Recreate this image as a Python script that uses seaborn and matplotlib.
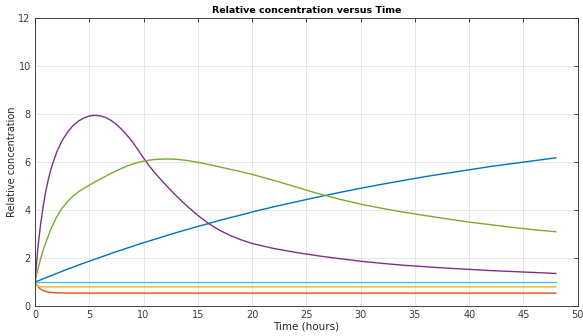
import matplotlib
matplotlib.use("Agg")
import matplotlib.pyplot as plt
import seaborn as sns
import pandas as pd

time_h = [0, 0.25, 0.5, 0.75, 1, 1.25, 1.5,
          2, 2.5, 3, 3.5, 4, 4.5, 5, 5.5, 6, 6.5, 7, 7.5, 8, 8.5, 9, 9.5, 10, 10.5, 11,
          12, 13, 14, 15, 16, 17, 18, 19, 20,
          22, 24, 26, 28, 30, 32, 34, 36, 38, 40, 42, 44, 46, 48]

blue = [1.00, 1.05, 1.09, 1.14, 1.18, 1.23, 1.27,
        1.36, 1.45, 1.54, 1.62, 1.71, 1.79, 1.87, 1.95, 2.03, 2.11, 2.19, 2.27, 2.34, 2.42,
        2.49, 2.57, 2.64, 2.71, 2.78,
        2.92, 3.06, 3.19, 3.32, 3.44, 3.57, 3.69, 3.80, 3.92,
        4.14, 4.34, 4.54, 4.73, 4.91, 5.08, 5.24, 5.40, 5.54, 5.68, 5.82, 5.94, 6.06, 6.18]
orange = [1.00, 0.83, 0.71, 0.65, 0.61, 0.585, 0.57,
          0.555, 0.547, 0.543, 0.541] + [0.54] * 38
yellow = [1.00, 0.82] + [0.80] * 47
purple = [1.00, 2.35, 3.35, 4.15, 4.80, 5.32, 5.75,
          6.42, 6.90, 7.25, 7.52, 7.71, 7.84, 7.92, 7.95, 7.93, 7.86, 7.74, 7.57, 7.36, 7.11,
          6.83, 6.51, 6.17, 5.86, 5.57,
          5.07, 4.60, 4.17, 3.78, 3.44, 3.16, 2.94, 2.76, 2.61,
          2.40, 2.24, 2.10, 1.98, 1.87, 1.78, 1.70, 1.64, 1.58, 1.53, 1.48, 1.44, 1.40, 1.36]
green = [1.00, 1.50, 1.95, 2.33, 2.65, 2.96, 3.25,
         3.72, 4.08, 4.36, 4.58, 4.76, 4.91, 5.04, 5.17, 5.29, 5.41, 5.53, 5.64, 5.74, 5.84,
         5.92, 5.99, 6.04, 6.08, 6.11,
         6.13, 6.12, 6.07, 5.99, 5.90, 5.80, 5.70, 5.60, 5.49,
         5.24, 4.97, 4.70, 4.46, 4.25, 4.07, 3.91, 3.77, 3.63, 3.50, 3.39, 3.28, 3.18, 3.10]
lightblue = [1.00] * 49

series = {"s1": blue, "s2": orange, "s3": yellow, "s4": purple, "s5": green, "s6": lightblue}
colors = {"s1": "#0072BD", "s2": "#D95319", "s3": "#EDB120", "s4": "#7E2F8E",
          "s5": "#77AC30", "s6": "#4DBEEE"}

df = pd.concat([pd.DataFrame({"Time": time_h, "Conc": v, "series": k}) for k, v in series.items()])

sns.set_style("white")
plt.rcParams['font.family'] = ['DejaVu Sans']

fig = plt.figure(figsize=(5.83, 3.36), dpi=100)
ax = fig.add_axes([0.060, 0.089, 0.931, 0.857])

sns.lineplot(data=df, x="Time", y="Conc", hue="series", palette=colors, estimator=None,
             sort=False, linewidth=1.0, legend=False, ax=ax)

ax.set_xlim(0, 50)
ax.set_ylim(0, 12)
ax.set_xticks(range(0, 51, 5))
ax.set_yticks(range(0, 13, 2))
axc = "#262626"
ax.grid(True, color="#e3e3e3", linewidth=0.6)
ax.set_axisbelow(True)
for s in ax.spines.values():
    s.set_color(axc)
    s.set_linewidth(0.6)
    s.set_visible(True)
ax.tick_params(direction="in", top=True, right=True, length=3, width=0.6,
               colors=axc, labelsize=7, pad=3)
for lab in ax.get_xticklabels() + ax.get_yticklabels():
    lab.set_color("#3a3a3a")
ax.set_xlabel("Time (hours)", fontsize=7.5, color=axc, labelpad=1)
ax.set_ylabel("Relative concentration", fontsize=7, color=axc)
ax.yaxis.set_label_coords(-0.033, 0.5)
ax.set_title("Relative concentration versus Time", fontsize=6.8, fontweight="bold",
             color="black", pad=4)

fig.savefig("out.png", dpi=100)
